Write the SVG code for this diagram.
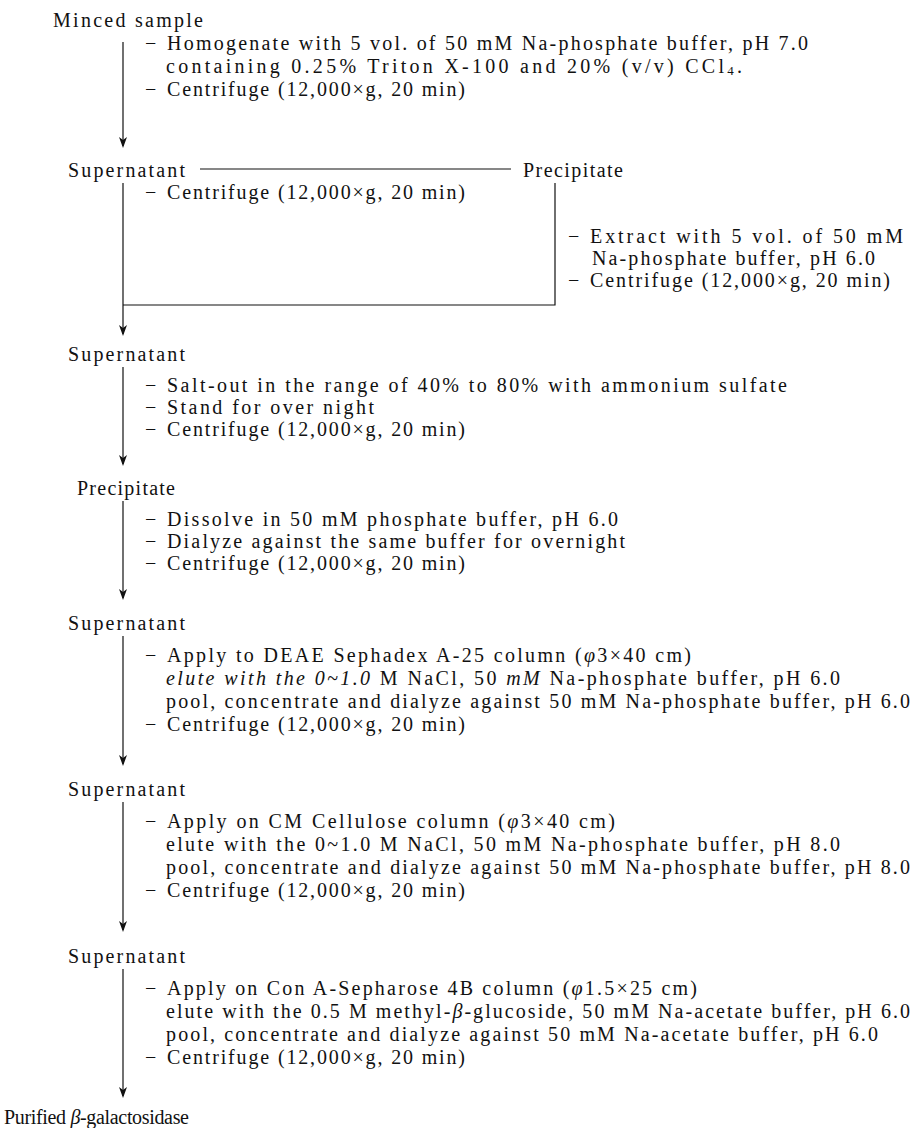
<svg xmlns="http://www.w3.org/2000/svg" width="915" height="1128" viewBox="0 0 915 1128">
<style>
.t{font-family:"Liberation Serif","Times New Roman",serif;font-size:20px;fill:#111}
.i{font-style:italic}
.ln{stroke:#111;stroke-width:1.2;fill:none}
.hd{fill:#111}
</style>
<defs>
<path id="head" d="M0,0 L-4,-11 L0,-8 L4,-11 Z"/>
</defs>
<rect width="915" height="1128" fill="#fff"/>

<g id="connectors">
  <path class="ln" d="M123,42 V146"/>
  <use href="#head" class="hd" x="123" y="148"/>
  <path class="ln" d="M200,169 H511"/>
  <path class="ln" d="M123,183 V334"/>
  <use href="#head" class="hd" x="123" y="336"/>
  <path class="ln" d="M555,183 V305 H123"/>
  <path class="ln" d="M123,367 V464"/>
  <use href="#head" class="hd" x="123" y="466"/>
  <path class="ln" d="M123,501 V598"/>
  <use href="#head" class="hd" x="123" y="600"/>
  <path class="ln" d="M123,636 V764"/>
  <use href="#head" class="hd" x="123" y="766"/>
  <path class="ln" d="M123,802 V930"/>
  <use href="#head" class="hd" x="123" y="932"/>
  <path class="ln" d="M123,969 V1096"/>
  <use href="#head" class="hd" x="123" y="1098"/>
</g>

<g id="minced-sample"><text class="t" x="53" y="27" textLength="150" lengthAdjust="spacing">Minced sample</text></g>
<g id="step-homogenate">
  <text class="t" x="145" y="50">−</text>
  <text class="t" x="167" y="50" textLength="641" lengthAdjust="spacing">Homogenate with 5 vol. of 50 mM Na-phosphate buffer, pH 7.0</text>
  <text class="t" x="166" y="73" textLength="576" lengthAdjust="spacing">containing 0.25% Triton X-100 and 20% (v/v) CCl<tspan font-size="13" dy="2">4</tspan><tspan dy="-2">.</tspan></text>
  <text class="t" x="145" y="96">−</text>
  <text class="t" x="167" y="96" textLength="298" lengthAdjust="spacing">Centrifuge (12,000×g, 20 min)</text>
</g>

<g id="supernatant-1"><text class="t" x="68" y="177" textLength="117" lengthAdjust="spacing">Supernatant</text></g>
<g id="precipitate-1"><text class="t" x="523" y="177" textLength="100" lengthAdjust="spacing">Precipitate</text></g>
<g id="step-centrifuge-1">
  <text class="t" x="145" y="199">−</text>
  <text class="t" x="167" y="199" textLength="298" lengthAdjust="spacing">Centrifuge (12,000×g, 20 min)</text>
</g>
<g id="step-extract">
  <text class="t" x="568" y="243">−</text>
  <text class="t" x="590" y="243" textLength="313" lengthAdjust="spacing">Extract with 5 vol. of 50 mM</text>
  <text class="t" x="592" y="265" textLength="283" lengthAdjust="spacing">Na-phosphate buffer, pH 6.0</text>
  <text class="t" x="568" y="287">−</text>
  <text class="t" x="590" y="287" textLength="300" lengthAdjust="spacing">Centrifuge (12,000×g, 20 min)</text>
</g>

<g id="supernatant-2"><text class="t" x="68" y="361" textLength="117" lengthAdjust="spacing">Supernatant</text></g>
<g id="step-saltout">
  <text class="t" x="145" y="392">−</text>
  <text class="t" x="167" y="392" textLength="620" lengthAdjust="spacing">Salt-out in the range of 40% to 80% with ammonium sulfate</text>
  <text class="t" x="145" y="414">−</text>
  <text class="t" x="167" y="414" textLength="207" lengthAdjust="spacing">Stand for over night</text>
  <text class="t" x="145" y="436">−</text>
  <text class="t" x="167" y="436" textLength="298" lengthAdjust="spacing">Centrifuge (12,000×g, 20 min)</text>
</g>

<g id="precipitate-2"><text class="t" x="77" y="495" textLength="98" lengthAdjust="spacing">Precipitate</text></g>
<g id="step-dissolve">
  <text class="t" x="145" y="526">−</text>
  <text class="t" x="167" y="526" textLength="451" lengthAdjust="spacing">Dissolve in 50 mM phosphate buffer, pH 6.0</text>
  <text class="t" x="145" y="548">−</text>
  <text class="t" x="167" y="548" textLength="458" lengthAdjust="spacing">Dialyze against the same buffer for overnight</text>
  <text class="t" x="145" y="570">−</text>
  <text class="t" x="167" y="570" textLength="298" lengthAdjust="spacing">Centrifuge (12,000×g, 20 min)</text>
</g>

<g id="supernatant-3"><text class="t" x="68" y="630" textLength="117" lengthAdjust="spacing">Supernatant</text></g>
<g id="step-deae">
  <text class="t" x="145" y="662">−</text>
  <text class="t" x="167" y="662" textLength="524" lengthAdjust="spacing">Apply to DEAE Sephadex A-25 column (<tspan class="i">φ</tspan>3×40 cm)</text>
  <text class="t" x="166" y="685" textLength="674" lengthAdjust="spacing"><tspan class="i">elute with the 0~1.0</tspan> M NaCl, 50 <tspan class="i">mM</tspan> Na-phosphate buffer, pH 6.0</text>
  <text class="t" x="166" y="708" textLength="744" lengthAdjust="spacing">pool, concentrate and dialyze against 50 mM Na-phosphate buffer, pH 6.0</text>
  <text class="t" x="145" y="731">−</text>
  <text class="t" x="167" y="731" textLength="298" lengthAdjust="spacing">Centrifuge (12,000×g, 20 min)</text>
</g>

<g id="supernatant-4"><text class="t" x="68" y="796" textLength="117" lengthAdjust="spacing">Supernatant</text></g>
<g id="step-cm">
  <text class="t" x="145" y="828">−</text>
  <text class="t" x="167" y="828" textLength="448" lengthAdjust="spacing">Apply on CM Cellulose column (<tspan class="i">φ</tspan>3×40 cm)</text>
  <text class="t" x="166" y="851" textLength="674" lengthAdjust="spacing">elute with the 0~1.0 M NaCl, 50 mM Na-phosphate buffer, pH 8.0</text>
  <text class="t" x="166" y="874" textLength="744" lengthAdjust="spacing">pool, concentrate and dialyze against 50 mM Na-phosphate buffer, pH 8.0</text>
  <text class="t" x="145" y="897">−</text>
  <text class="t" x="167" y="897" textLength="298" lengthAdjust="spacing">Centrifuge (12,000×g, 20 min)</text>
</g>

<g id="supernatant-5"><text class="t" x="68" y="963" textLength="117" lengthAdjust="spacing">Supernatant</text></g>
<g id="step-cona">
  <text class="t" x="145" y="995">−</text>
  <text class="t" x="167" y="995" textLength="530" lengthAdjust="spacing">Apply on Con A-Sepharose 4B column (<tspan class="i">φ</tspan>1.5×25 cm)</text>
  <text class="t" x="166" y="1018" textLength="744" lengthAdjust="spacing">elute with the 0.5 M methyl-<tspan class="i">β</tspan>-glucoside, 50 mM Na-acetate buffer, pH 6.0</text>
  <text class="t" x="166" y="1041" textLength="712" lengthAdjust="spacing">pool, concentrate and dialyze against 50 mM Na-acetate buffer, pH 6.0</text>
  <text class="t" x="145" y="1064">−</text>
  <text class="t" x="167" y="1064" textLength="298" lengthAdjust="spacing">Centrifuge (12,000×g, 20 min)</text>
</g>

<g id="purified"><text class="t" x="4" y="1124" textLength="185" lengthAdjust="spacing">Purified <tspan class="i">β</tspan>-galactosidase</text></g>
</svg>
